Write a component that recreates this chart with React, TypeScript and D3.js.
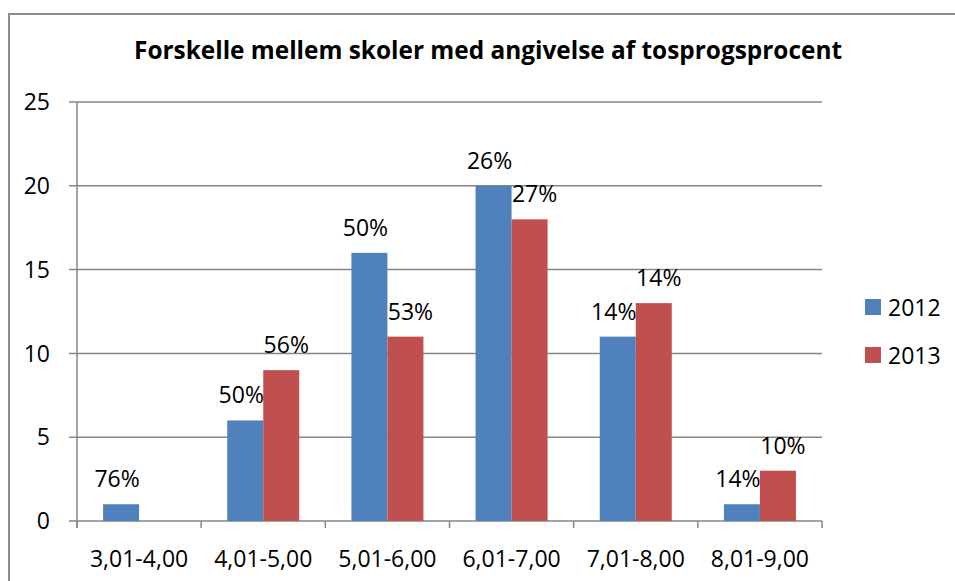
import React from "react";
import * as d3 from "d3";

const categories = ["3,01-4,00", "4,01-5,00", "5,01-6,00", "6,01-7,00", "7,01-8,00", "8,01-9,00"];
const seriesNames = ["2012", "2013"];
const values2012 = [1, 6, 16, 20, 11, 1];
const values2013 = [0, 9, 11, 18, 13, 3];
const labels2012 = ["76%", "50%", "50%", "26%", "14%", "14%"];
const labels2013 = ["", "56%", "53%", "27%", "14%", "10%"];
const yTicks = [0, 5, 10, 15, 20, 25];
const title = "Forskelle mellem skoler med angivelse af tosprogsprocent";

const COLORS = ["#4F81BD", "#C0504D"];
const FONT = "'Open Sans', 'Liberation Sans', sans-serif";
const GRID = "#868686";

export default function App() {
  const W = 955, H = 581;
  const left = 77, right = 822, top = 102, bottom = 521;
  const x = d3.scaleBand<string>().domain(categories).range([left, right]).paddingInner(0.42).paddingOuter(0.21);
  const step = x.step();
  const xs = d3.scaleBand<string>().domain(seriesNames).range([0, x.bandwidth()]);
  const y = d3.scaleLinear().domain([0, 25]).range([bottom, top]);
  const series = [
    { name: seriesNames[0], values: values2012, labels: labels2012, dx: -4 },
    { name: seriesNames[1], values: values2013, labels: labels2013, dx: 5 },
  ];
  const boundaries = d3.range(categories.length + 1).map((i) => left + i * step);

  return (
    <div style={{ position: "absolute", left: 0, top: 0, width: W, height: H, overflow: "hidden", background: "#fff" }}>
      <svg width={W} height={H} style={{ display: "block", fontFamily: FONT }}>
        <rect x={9} y={14} width={1000} height={700} fill="#fff" stroke="#8c8c8c" strokeWidth={2} />
        <text x={488} y={59} textAnchor="middle" fontWeight="bold" fontSize={24.5} textLength={708} lengthAdjust="spacingAndGlyphs" fill="#000">
          {title}
        </text>
        {yTicks.map((t) => (
          <g key={t}>
            <line x1={left - 8} x2={right} y1={y(t)} y2={y(t)} stroke={GRID} strokeWidth={1.5} />
            <text x={50} y={y(t)} dy="0.36em" textAnchor="end" fontSize={23} fill="#000">{t}</text>
          </g>
        ))}
        <line x1={left} x2={left} y1={top} y2={bottom + 7} stroke={GRID} strokeWidth={1.5} />
        {boundaries.map((bx, i) => (
          <line key={i} x1={bx} x2={bx} y1={bottom} y2={bottom + 7} stroke={GRID} strokeWidth={1.5} />
        ))}
        {series.map((s, si) => (
          <g key={s.name}>
            {categories.map((c, i) => {
              const v = s.values[i];
              const bx = (x(c) as number) + (xs(s.name) as number);
              return v > 0 ? (
                <rect key={c} x={bx} y={y(v)} width={xs.bandwidth()} height={y(0) - y(v)} fill={COLORS[si]} />
              ) : null;
            })}
          </g>
        ))}
        {series.map((s) => (
          <g key={s.name + "l"}>
            {categories.map((c, i) => {
              const v = s.values[i];
              const bx = (x(c) as number) + (xs(s.name) as number) + xs.bandwidth() / 2;
              return s.labels[i] ? (
                <text key={c} x={bx + s.dx} y={y(v) - 17} textAnchor="middle" fontSize={23} fill="#000">{s.labels[i]}</text>
              ) : null;
            })}
          </g>
        ))}
        {categories.map((c) => (
          <text key={c} x={(x(c) as number) + x.bandwidth() / 2} y={567} textAnchor="middle" fontSize={23} fill="#000">{c}</text>
        ))}
        {series.map((s, si) => (
          <g key={s.name + "leg"}>
            <rect x={865} y={299 + si * 48} width={16} height={16} fill={COLORS[si]} />
            <text x={888} y={316 + si * 48} fontSize={23} fill="#000">{s.name}</text>
          </g>
        ))}
      </svg>
    </div>
  );
}
